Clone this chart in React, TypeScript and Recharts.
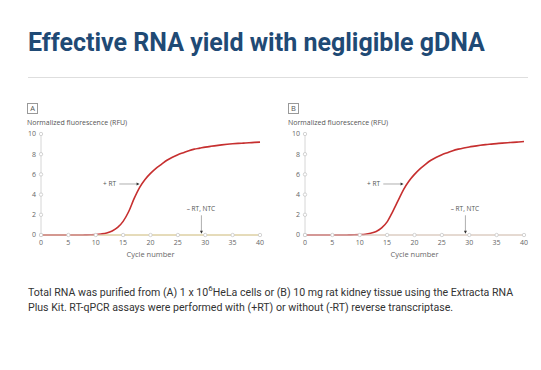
import React from 'react';
import { LineChart, Line, XAxis, YAxis, ReferenceLine, ReferenceDot } from 'recharts';

// cycle numbers 0..40
const cycles = [
  0, 1, 2, 3, 4, 5, 6, 7, 8, 9, 10, 11, 12, 13, 14, 15, 16, 17, 18, 19, 20,
  21, 22, 23, 24, 25, 26, 27, 28, 29, 30, 31, 32, 33, 34, 35, 36, 37, 38, 39, 40,
];

// panel A: HeLa cells
const plusRtA = [
  0, 0, 0, 0, 0, 0, 0, 0, 0.01, 0.02, 0.04, 0.1, 0.2, 0.4, 0.75, 1.35, 2.3, 3.6, 4.7, 5.5, 6.1,
  6.6, 7.0, 7.4, 7.7, 7.95, 8.15, 8.35, 8.5, 8.6, 8.7, 8.78, 8.85, 8.92, 8.98, 9.03, 9.07, 9.1, 9.13, 9.17, 9.2,
];
const minusRtA = [
  0, 0, 0, 0, 0, 0, 0, 0, 0, 0, 0, 0, 0, 0, 0, 0, 0, 0, 0, 0, 0,
  0, 0, 0, 0, 0, 0, 0, 0, 0, 0, 0, 0, 0, 0, 0, 0, 0, 0, 0, 0,
];

// panel B: rat kidney tissue
const plusRtB = [
  0, 0, 0, 0, 0, 0, 0, 0, 0.01, 0.02, 0.04, 0.08, 0.18, 0.35, 0.7, 1.3, 2.3, 3.4, 4.5, 5.35, 6.0,
  6.55, 7.0, 7.4, 7.7, 7.95, 8.15, 8.35, 8.5, 8.62, 8.72, 8.8, 8.88, 8.95, 9.0, 9.05, 9.1, 9.14, 9.17, 9.21, 9.25,
];
const minusRtB = [
  0, 0, 0, 0, 0, 0, 0, 0, 0, 0, 0, 0, 0, 0, 0, 0, 0, 0, 0, 0, 0,
  0, 0, 0, 0, 0, 0, 0, 0, 0, 0, 0, 0, 0, 0, 0, 0, 0, 0, 0, 0,
];

const xTicks = [0, 5, 10, 15, 20, 25, 30, 35, 40];
const yTicks = [0, 2, 4, 6, 8, 10];

const TM = 5;
const FONT = '"Open Sans", "Noto Sans", sans-serif';

const XTick = (props: any) => {
  const { x, y, payload } = props;
  return (
    <g>
      <circle cx={x} cy={y - TM} r={1.7} fill="#fff" stroke="#c8c8c8" strokeWidth={0.8} />
      <text x={x} y={y} dy="0.75em" textAnchor="middle" fontSize={7} fill="#666" fontFamily={FONT}>
        {payload.value}
      </text>
    </g>
  );
};

const YTick = (props: any) => {
  const { x, y, payload } = props;
  return (
    <g>
      <circle cx={x + TM} cy={y} r={1.7} fill="#fff" stroke="#c8c8c8" strokeWidth={0.8} />
      <text x={x} y={y} dy="0.35em" textAnchor="end" fontSize={7} fill="#666" fontFamily={FONT}>
        {payload.value}
      </text>
    </g>
  );
};

const textShape = (label: string, anchor: string) => (p: any) => (
  <text x={p.cx} y={p.cy} dy="0.35em" textAnchor={anchor} fontSize={6.5} fill="#555" fontFamily={FONT}>
    {label}
  </text>
);

const arrowRight = (p: any) => (
  <polygon points={`${p.cx},${p.cy} ${p.cx - 3},${p.cy - 1.5} ${p.cx - 3},${p.cy + 1.5}`} fill="#333" />
);

const arrowDown = (p: any) => (
  <polygon points={`${p.cx},${p.cy} ${p.cx - 1.5},${p.cy - 3} ${p.cx + 1.5},${p.cy - 3}`} fill="#333" />
);

const Panel = ({ plus, minus, baseColor }: { plus: number[]; minus: number[]; baseColor: string }) => {
  const data = cycles.map((c, i) => ({ cycle: c, plus: plus[i], minus: minus[i] }));
  return (
    <LineChart width={250} height={140} data={data} margin={{ top: 9, right: 5, bottom: 0, left: 6 }}>
      <XAxis
        dataKey="cycle"
        type="number"
        domain={[0, 40]}
        ticks={xTicks}
        interval={0}
        tick={<XTick />}
        tickLine={false}
        tickSize={0}
        tickMargin={TM}
        height={30}
        stroke="#d6d6d6"
        label={{ value: 'Cycle number', position: 'insideBottom', offset: 8, fontSize: 7.5, fill: '#666', fontFamily: FONT }}
      />
      <YAxis
        type="number"
        domain={[0, 10]}
        ticks={yTicks}
        interval={0}
        tick={<YTick />}
        tickLine={false}
        tickSize={0}
        tickMargin={TM}
        width={20}
        stroke="#d6d6d6"
      />
      <Line type="monotone" dataKey="minus" stroke={baseColor} strokeWidth={1.5} dot={false} isAnimationActive={false} />
      <Line type="monotone" dataKey="plus" stroke="#c62f2f" strokeWidth={1.6} dot={false} isAnimationActive={false} />
      <ReferenceLine segment={[{ x: 14.3, y: 5.05 }, { x: 17.5, y: 5.05 }]} stroke="#9a9a9a" strokeWidth={0.8} />
      <ReferenceDot x={18} y={5.05} r={0} shape={arrowRight} />
      <ReferenceDot x={13.7} y={5.05} r={0} shape={textShape('+ RT', 'end')} />
      <ReferenceLine segment={[{ x: 29.3, y: 1.95 }, { x: 29.3, y: 0.4 }]} stroke="#9a9a9a" strokeWidth={0.8} />
      <ReferenceDot x={29.3} y={0.12} r={0} shape={arrowDown} />
      <ReferenceDot x={29.2} y={2.6} r={0} shape={textShape('– RT, NTC', 'middle')} />
    </LineChart>
  );
};

const PanelHeader = ({ letter }: { letter: string }) => (
  <div>
    <div
      style={{
        width: 9,
        height: 9,
        border: '1px solid #999',
        fontSize: 7.5,
        lineHeight: '9px',
        textAlign: 'center',
        color: '#555',
        fontFamily: FONT,
      }}
    >
      {letter}
    </div>
    <div style={{ marginTop: 4, fontSize: 7, color: '#555', fontFamily: FONT }}>Normalized fluorescence (RFU)</div>
  </div>
);

export default function App() {
  return (
    <div style={{ position: 'absolute', left: 0, top: 0, width: 541, height: 370, background: '#fff' }}>
      <div
        style={{
          position: 'absolute',
          left: 28,
          top: 28,
          fontFamily: 'Roboto, sans-serif',
          fontWeight: 700,
          fontSize: 25,
          color: '#1f4a75',
          whiteSpace: 'nowrap',
        }}
      >
        Effective RNA yield with negligible gDNA
      </div>
      <div style={{ position: 'absolute', left: 28, top: 77, width: 500, height: 1, background: '#dedede' }} />

      <div style={{ position: 'absolute', left: 27, top: 103 }}>
        <PanelHeader letter="A" />
      </div>
      <div style={{ position: 'absolute', left: 15, top: 125 }}>
        <Panel plus={plusRtA} minus={minusRtA} baseColor="#f2d77e" />
      </div>

      <div style={{ position: 'absolute', left: 288, top: 103 }}>
        <PanelHeader letter="B" />
      </div>
      <div style={{ position: 'absolute', left: 279, top: 125 }}>
        <Panel plus={plusRtB} minus={minusRtB} baseColor="#f1d2bd" />
      </div>

      <div
        style={{
          position: 'absolute',
          left: 28,
          top: 286,
          fontFamily: 'Roboto, sans-serif',
          fontSize: 10.6,
          lineHeight: '14.5px',
          color: '#333',
          whiteSpace: 'nowrap',
        }}
      >
        Total RNA was purified from (A) 1 x 10<sup style={{ fontSize: 8, lineHeight: 0 }}>6</sup>HeLa cells or (B) 10 mg rat kidney tissue using the Extracta RNA
        <br />
        Plus Kit. RT-qPCR assays were performed with (+RT) or without (-RT) reverse transcriptase.
      </div>
    </div>
  );
}
